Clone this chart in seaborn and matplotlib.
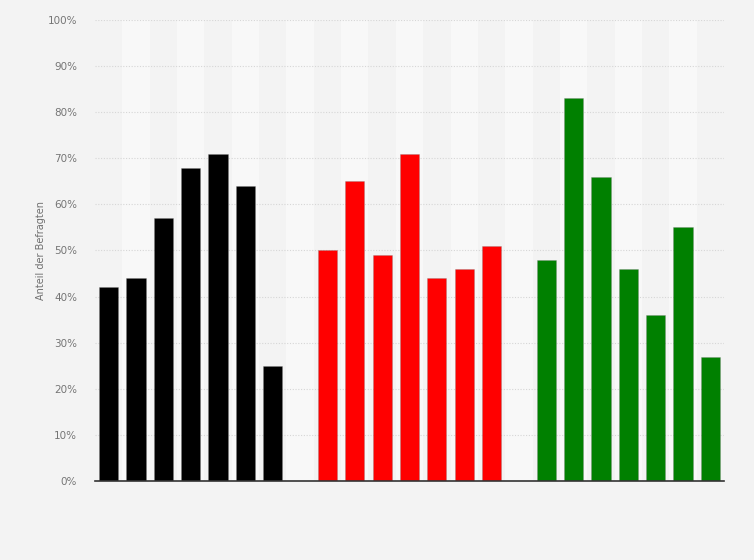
import numpy as np
import pandas as pd
import matplotlib
matplotlib.use("Agg")
import matplotlib.pyplot as plt
import seaborn as sns
from matplotlib.ticker import FuncFormatter

# values (percent)
black_values = [42, 44, 57, 68, 71, 64, 25]
red_values = [50, 65, 49, 71, 44, 46, 51]
green_values = [48, 83, 66, 46, 36, 55, 27]
group_colors = {"schwarz": "#000000", "rot": "#ff0000", "gruen": "#008000"}
y_ticks = [0, 10, 20, 30, 40, 50, 60, 70, 80, 90, 100]

# 23 slots: 7 bars, gap, 7 bars, gap, 7 bars
rows = []
slot = 0
for group, values in [("schwarz", black_values), ("rot", red_values), ("gruen", green_values)]:
    for v in values:
        rows.append({"slot": str(slot), "value": v, "group": group})
        slot += 1
    slot += 1
n_slots = slot - 1
order = [str(i) for i in range(n_slots)]
df = pd.DataFrame(rows)

sns.set_style("white")
plt.rcParams["font.family"] = ["DejaVu Sans"]

bg = "#f3f3f3"
fig = plt.figure(figsize=(7.54, 5.60), dpi=100, facecolor=bg)
ax = fig.add_axes([95 / 754, 1 - 481 / 560, 629 / 754, 461 / 560])
ax.set_facecolor(bg)

# alternating background bands
for i in range(1, n_slots, 2):
    ax.axvspan(i - 0.5, i + 0.5, color="#f8f8f8", zorder=0, lw=0)

sns.barplot(data=df, x="slot", y="value", hue="group", order=order,
            palette=group_colors, dodge=False, width=0.7, legend=False,
            saturation=1, edgecolor=(0.5, 0.5, 0.5, 0.35), linewidth=0.6,
            ax=ax, zorder=3)

ax.set_xlim(-0.5, n_slots - 0.5)
ax.set_ylim(0, 100)
ax.set_yticks(y_ticks)
ax.yaxis.set_major_formatter(FuncFormatter(lambda v, p: f"{int(v)}%"))
ax.yaxis.grid(True, color="#d6d6d6", linestyle=(0, (1, 1.5)), linewidth=0.8, zorder=1)
ax.set_axisbelow(True)
ax.set_xticks([])
ax.set_xlabel("")
ax.set_ylabel("Anteil der Befragten", fontsize=7, color="#707070", labelpad=1)
ax.tick_params(axis="y", length=0, pad=13, labelsize=7.5, labelcolor="#757575")

for side in ["top", "right", "left"]:
    ax.spines[side].set_visible(False)
ax.spines["bottom"].set_color("#333333")
ax.spines["bottom"].set_linewidth(1.2)
ax.spines["bottom"].set_zorder(5)

fig.savefig("out.png", dpi=100, facecolor=bg)
